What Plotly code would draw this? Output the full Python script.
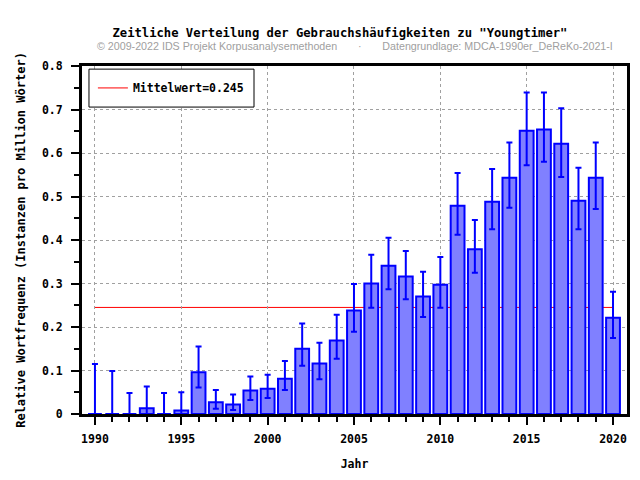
import plotly.graph_objects as go

years = list(range(1990, 2021))
freq = [0, 0, 0, 0.013, 0, 0.008, 0.096, 0.027, 0.022, 0.054, 0.058,
        0.081, 0.150, 0.116, 0.169, 0.238, 0.300, 0.341, 0.316, 0.270, 0.297,
        0.479, 0.379, 0.488, 0.543, 0.651, 0.654, 0.621, 0.490, 0.543, 0.221]
err_hi = [0.115, 0.099, 0.048, 0.063, 0.048, 0.050, 0.155, 0.055, 0.045, 0.086, 0.090,
          0.122, 0.208, 0.164, 0.228, 0.299, 0.366, 0.405, 0.375, 0.327, 0.361,
          0.554, 0.446, 0.563, 0.624, 0.739, 0.739, 0.703, 0.566, 0.624, 0.281]
err_lo = [0, 0, 0, 0, 0, 0, 0.061, 0.012, 0.009, 0.032, 0.037,
          0.055, 0.111, 0.080, 0.127, 0.189, 0.244, 0.287, 0.264, 0.223, 0.244,
          0.412, 0.325, 0.425, 0.474, 0.572, 0.580, 0.545, 0.425, 0.471, 0.175]
mean_val = 0.245

mono = "DejaVu Sans Mono"
sp = "&nbsp;" * 7

fig = go.Figure()

fig.add_trace(go.Bar(
    x=years, y=freq, width=0.8,
    marker=dict(color="#8080ff", line=dict(color="#0000ff", width=2)),
    error_y=dict(type="data", symmetric=False,
                 array=[h - v for h, v in zip(err_hi, freq)],
                 arrayminus=[v - l for v, l in zip(freq, err_lo)],
                 color="#0000ff", thickness=2, width=3),
    showlegend=False, hoverinfo="x+y"
))

# mean line sits behind the bars, so it is a shape (with a legend entry)
fig.add_shape(type="line", xref="x", yref="y",
              x0=years[0], x1=years[-1], y0=mean_val, y1=mean_val,
              line=dict(color="red", width=1), layer="below",
              showlegend=True, name=f"Mittelwert={mean_val}")

# legend frame
fig.add_shape(type="rect", xref="paper", yref="paper",
              x0=0.0128, x1=0.3156, y0=0.882, y1=0.991,
              line=dict(color="black", width=1), fillcolor="white", layer="above")

# page body has an 8px margin on every side: keep the figure inside it
fig.update_layout(
    width=624, height=464,
    margin=dict(l=74, r=5, t=58, b=58),
    plot_bgcolor="white", paper_bgcolor="white",
    font=dict(family=mono, size=11.5, color="black", weight="bold"),
    title=dict(text='Zeitliche Verteilung der Gebrauchshäufigkeiten zu "Youngtimer"',
               x=0.532, xanchor="center", y=0.946, yanchor="middle",
               font=dict(family=mono, size=12.2, weight="bold")),
    annotations=[dict(
        text="© 2009-2022 IDS Projekt Korpusanalysemethoden" + sp + "·" + sp +
             "Datengrundlage: MDCA-1990er_DeReKo-2021-I",
        xref="paper", yref="paper", x=0.5, y=1.057, xanchor="center", yanchor="middle",
        showarrow=False,
        font=dict(family="Liberation Sans", size=10.7, color="#a0a0a0", weight="normal"))],
    legend=dict(x=0.02, y=0.937, xanchor="left", yanchor="middle",
                borderwidth=0, bgcolor="rgba(0,0,0,0)",
                font=dict(family=mono, size=11.5, weight="bold")),
    showlegend=True,
)

fig.update_xaxes(
    range=[1989.25, 2020.81], tickmode="linear", tick0=1990, dtick=5,
    ticks="outside", ticklen=8, tickwidth=2, tickcolor="black",
    minor=dict(dtick=1, tick0=1990, ticks="outside", ticklen=5, tickwidth=2,
               tickcolor="black", showgrid=False),
    showgrid=True, gridcolor="#a0a0a0", griddash="dot", gridwidth=1,
    showline=True, linecolor="black", linewidth=3, mirror=True,
    zeroline=False, ticklabelstandoff=4, automargin=False,
    title=dict(text="Jahr", standoff=16, font=dict(family=mono, size=11.5, weight="bold")),
)
fig.update_yaxes(
    range=[0, 0.8], tickmode="linear", tick0=0, dtick=0.1,
    ticks="outside", ticklen=8, tickwidth=2, tickcolor="black",
    minor=dict(dtick=0.05, ticks="outside", ticklen=5, tickwidth=2,
               tickcolor="black", showgrid=False),
    showgrid=True, gridcolor="#a0a0a0", griddash="dot", gridwidth=1,
    showline=True, linecolor="black", linewidth=3, mirror=True,
    zeroline=False, ticklabelstandoff=6, automargin=False,
    title=dict(text="Relative Wortfrequenz (Instanzen pro Million Wörter)", standoff=14,
               font=dict(family=mono, size=12, weight="bold")),
)

fig.write_html("out.html")
